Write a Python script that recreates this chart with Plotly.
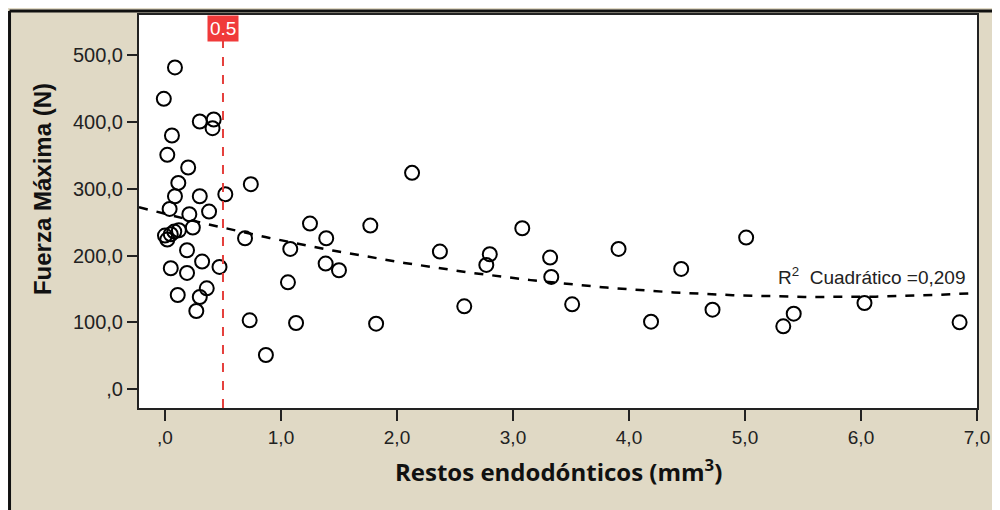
import plotly.graph_objects as go

# Data
restos = [-0.01, 0.086, 0.30, 0.42, 0.41, 0.06, 0.02, 0.20, 0.115, 0.74,
          0.086, 0.30, 0.52, 0.04, 0.38, 0.21, 0.24, 0.69, 0.0, 0.02,
          0.05, 0.08, 0.12, 0.19, 0.32, 0.05, 0.19, 0.47, 0.36, 0.30,
          0.11, 0.27, 0.73, 2.13, 1.25, 1.77, 1.39, 1.08, 2.37, 2.80,
          2.77, 3.08, 1.385, 1.50, 1.06, 1.13, 1.82, 2.58, 0.87, 3.32,
          3.33, 3.51, 3.91, 4.19, 4.45, 4.72, 5.01, 5.33, 5.42, 6.03, 6.85]
fuerza = [435, 482, 401, 404, 391, 380, 351, 332, 309, 307,
          289, 289, 292, 270, 266, 262, 242, 226, 230, 224,
          232, 236, 238, 208, 191, 181, 174, 183, 151, 138,
          141, 117, 103, 324, 248, 245, 226, 210, 206, 202,
          186, 241, 188, 178, 160, 99, 98, 124, 51, 197,
          168, 127, 210, 101, 180, 119, 227, 94, 113, 129, 100]

# quadratic fit line (coefficients): y = c0 + c1*x + c2*x^2
fit_c0, fit_c1, fit_c2 = 262.5, -43.4, 3.78

x_tickvals = [0, 1, 2, 3, 4, 5, 6, 7]
x_ticktext = [",0", "1,0", "2,0", "3,0", "4,0", "5,0", "6,0", "7,0"]
y_tickvals = [0, 100, 200, 300, 400, 500]
y_ticktext = [",0", "100,0", "200,0", "300,0", "400,0", "500,0"]
umbral = 0.5
r2_label = "R<sup>2</sup>  Cuadrático =0,209"
x_title = "Restos endodónticos (mm<sup>3</sup>)"
y_title = "Fuerza Máxima (N)"

x_range = [-0.224, 7.0]
y_range = [-28.4, 560.6]

n = 200
xf = [x_range[0] + (x_range[1] - x_range[0]) * i / (n - 1) for i in range(n)]
yf = [fit_c0 + fit_c1 * v + fit_c2 * v * v for v in xf]

fig = go.Figure()
fig.add_trace(go.Scatter(x=xf, y=yf, mode="lines",
                         line=dict(color="black", width=2.5, dash="dash"),
                         hoverinfo="skip", showlegend=False))
fig.add_trace(go.Scatter(x=restos, y=fuerza, mode="markers",
                         marker=dict(symbol="circle-open", size=14, color="black",
                                     line=dict(width=2, color="black")),
                         showlegend=False))

BG = "#E0D9C5"
FONT = "Liberation Sans, Arial"
fig.update_layout(
    width=992, height=502,
    margin=dict(l=131, r=23, t=7, b=102, autoexpand=False),
    paper_bgcolor=BG, plot_bgcolor="white",
    font=dict(family=FONT, color="#222"),
)
fig.update_xaxes(range=x_range, tickvals=x_tickvals, ticktext=x_ticktext,
                 showgrid=False, zeroline=False, showline=True, linecolor="#222",
                 linewidth=2, mirror=True, ticks="outside", ticklen=11, tickwidth=2,
                 tickcolor="#222", tickfont=dict(size=19, family=FONT, color="#222"))
fig.update_yaxes(range=y_range, tickvals=y_tickvals, ticktext=y_ticktext,
                 showgrid=False, zeroline=False, showline=True, linecolor="#222",
                 linewidth=2, mirror=True, ticks="outside", ticklen=10, tickwidth=2,
                 tickcolor="#222", tickfont=dict(size=20, family=FONT, color="#222"))

# axis titles
fig.add_annotation(x=0.501, y=-0.158, xref="paper", yref="paper", text=x_title,
                   showarrow=False, xanchor="center", yanchor="middle",
                   font=dict(size=24, family="Open Sans", color="#111", weight="bold"))
fig.add_annotation(x=-0.1158, y=0.557, xref="paper", yref="paper", text=y_title,
                   showarrow=False, xanchor="center", yanchor="middle", textangle=-90,
                   font=dict(size=24, family=FONT, color="#111", weight="bold"))

# threshold line
fig.add_shape(type="line", xref="x", yref="paper", x0=umbral, x1=umbral, y0=0, y1=1,
              line=dict(color="#E5403D", width=2, dash="dash"))
fig.add_annotation(x=umbral, y=1, xref="x", yref="paper", text=str(umbral),
                   showarrow=False, xanchor="center", yanchor="top",
                   bgcolor="#F03A3A", font=dict(color="white", size=19, family=FONT),
                   borderpad=2)
fig.add_annotation(x=6.92, y=169, xref="x", yref="y", text=r2_label, showarrow=False,
                   xanchor="right", yanchor="middle",
                   font=dict(size=19, color="#222", family=FONT))

# outer frame
fig.add_shape(type="line", xref="paper", yref="paper", x0=-0.1545, x1=1.04,
              y0=1.0102, y1=1.0102, line=dict(color="#111", width=3), layer="above")
fig.add_shape(type="line", xref="paper", yref="paper", x0=-0.1545, x1=-0.1545,
              y0=1.0102, y1=-0.28, line=dict(color="#111", width=3), layer="above")

fig.write_html("out.html")
